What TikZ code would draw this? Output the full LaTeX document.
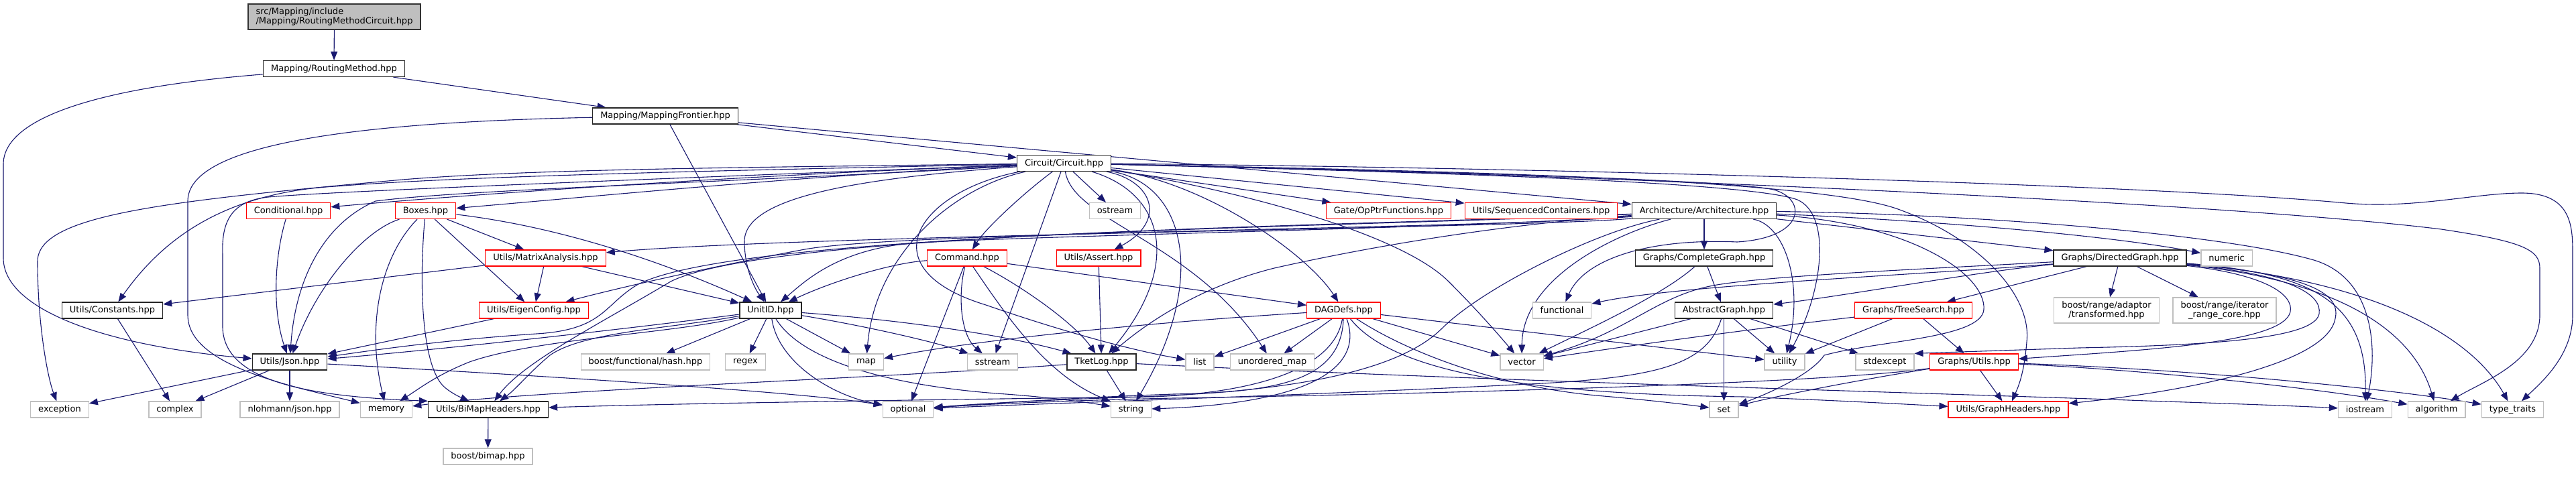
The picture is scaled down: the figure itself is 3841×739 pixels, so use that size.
\documentclass[tikz,border=0pt]{standalone}
\usepackage{fontspec}
\setmainfont{DejaVu Sans}
\usetikzlibrary{arrows.meta}
\pgfdeclarelayer{back}
\pgfdeclarelayer{bg}
\pgfsetlayers{back,bg,main}
\definecolor{edgec}{HTML}{191970}
\definecolor{greyb}{HTML}{BFBFBF}
\definecolor{redb}{HTML}{FF0000}
\tikzset{
  nbase/.style={draw, fill=white, line width=1.25pt, inner xsep=11.5pt, inner ysep=2pt,
    minimum height=24pt, font=\fontsize{13}{13.4}\selectfont, text=black},
  nb/.style={nbase, draw=black!85},
  nr/.style={nbase, draw=redb},
  ng/.style={nbase, draw=greyb},
  ngtwo/.style={nbase, draw=greyb, align=center, minimum height=38pt},
  nroot/.style={nbase, draw=black!80, fill=greyb, align=left, minimum height=38pt},
  e/.style={draw=edgec, line width=1.1pt, -{Triangle[length=13pt,width=10pt]}}
}
\begin{document}
\begin{tikzpicture}[x=1pt,y=-1pt]
\begin{pgfonlayer}{back}
\fill[white] (0,0) rectangle (3841,739);
\end{pgfonlayer}
\useasboundingbox (0,0) rectangle (3841,739);

% nodes
\node[nroot] (root) at (498.5,25) {src/Mapping/include\\/Mapping/RoutingMethodCircuit.hpp};
\node[nb] (rm) at (498,102.5) {Mapping/RoutingMethod.hpp};
\node[nb] (mf) at (992,173) {Mapping/MappingFrontier.hpp};
\node[nb] (circ) at (1586.5,243.5) {Circuit/Circuit.hpp};
\node[nr] (cond) at (430,314.5) {Conditional.hpp};
\node[nr] (boxes) at (634.5,314.5) {Boxes.hpp};
\node[ng] (ostream) at (1662.5,314.5) {ostream};
\node[nr] (opptr) at (2070.5,314.5) {Gate/OpPtrFunctions.hpp};
\node[nr] (seq) at (2298,314.5) {Utils/SequencedContainers.hpp};
\node[nb] (arch) at (2541,314.5) {Architecture/Architecture.hpp};
\node[nr] (matrix) at (813.5,385) {Utils/MatrixAnalysis.hpp};
\node[nr] (command) at (1442,385) {Command.hpp};
\node[nr] (assert) at (1638,385) {Utils/Assert.hpp};
\node[nb] (complete) at (2541,385) {Graphs/CompleteGraph.hpp};
\node[nb] (directed) at (3161,385) {Graphs/DirectedGraph.hpp};
\node[ng] (numeric) at (3320,385) {numeric};
\node[nb] (constants) at (167.5,463) {Utils/Constants.hpp};
\node[nr] (eigen) at (796,463) {Utils/EigenConfig.hpp};
\node[nb] (unitid) at (1149,463) {UnitID.hpp};
\node[nr] (dagdefs) at (2003.5,463) {DAGDefs.hpp};
\node[ng] (functional) at (2329,463) {functional};
\node[nb] (abstract) at (2570.5,463) {AbstractGraph.hpp};
\node[nr] (treesearch) at (2853,463) {Graphs/TreeSearch.hpp};
\node[ngtwo] (transformed) at (3141,463) {boost/range/adaptor\\/transformed.hpp};
\node[ngtwo] (irc) at (3317,463) {boost/range/iterator\\\_range\_core.hpp};
\node[nb] (json) at (432,540) {Utils/Json.hpp};
\node[ng] (hash) at (962.5,540) {boost/functional/hash.hpp};
\node[ng] (regex) at (1111.5,540) {regex};
\node[ng] (map) at (1291.5,540) {map};
\node[ng] (sstream) at (1480,540) {sstream};
\node[nb] (tketlog) at (1642.5,540) {TketLog.hpp};
\node[ng] (list) at (1789,540) {list};
\node[ng] (umap) at (1897,540) {unordered\_map};
\node[ng] (vector) at (2269,540) {vector};
\node[ng] (utility) at (2661,540) {utility};
\node[ng] (stdexcept) at (2810.5,540) {stdexcept};
\node[nr] (gutils) at (2943.5,540) {Graphs/Utils.hpp};
\node[ng] (exception) at (89,611) {exception};
\node[ng] (complex) at (261,611) {complex};
\node[ng] (nlohmann) at (432,611) {nlohmann/json.hpp};
\node[ng] (memory) at (576,611) {memory};
\node[nb] (bimap) at (728,611) {Utils/BiMapHeaders.hpp};
\node[ng] (optional) at (1354,611) {optional};
\node[ng] (string) at (1686.5,611) {string};
\node[ng] (set) at (2570.5,611) {set};
\node[nr] (graphheaders) at (2994.5,611) {Utils/GraphHeaders.hpp};
\node[ng] (iostream) at (3526.5,611) {iostream};
\node[ng] (algorithm) at (3633,611) {algorithm};
\node[ng] (typetraits) at (3746.5,611) {type\_traits};
\node[ng] (boostbimap) at (727.5,681) {boost/bimap.hpp};

\begin{pgfonlayer}{bg}
% top chain
\draw[e] (root) -- (rm);
\draw[e] (rm) .. controls (150,130) and (5,175) .. (5,245) -- (5,385) .. controls (5,460) and (150,515) .. (json);
\draw[e] (rm) -- (mf);
\draw[e] (mf) -- (circ);
\draw[e] (mf) -- (unitid);
\draw[e] (mf) .. controls (500,183) and (280,220) .. (280,300) -- (280,470) .. controls (280,545) and (430,575) .. (memory);
\draw[e] (mf) -- (arch);

% Circuit
\draw[e] (circ) .. controls (1100,262) and (700,290) .. (cond);
\draw[e] (circ) .. controls (1200,262) and (900,292) .. (boxes);
\draw[e] (circ) .. controls (1100,254) and (700,262) .. (500,278) .. controls (330,288) and (240,360) .. (constants);
\draw[e] (circ) .. controls (1100,250) and (800,252) .. (600,268) .. controls (250,300) and (56,320) .. (56,390) .. controls (56,480) and (70,560) .. (exception);
\draw[e] (circ) .. controls (1100,272) and (700,282) .. (560,300) .. controls (480,335) and (440,420) .. (json);
\draw[e] (circ) .. controls (1000,266) and (500,285) .. (400,294) .. controls (345,300) and (330,330) .. (332,380) -- (332,485) .. controls (330,575) and (480,592) .. (bimap.north west);
\draw[e] (circ) .. controls (1530,285) and (1470,340) .. (command);
\draw[e] (circ) .. controls (1720,270) and (1740,330) .. (assert);
\draw[e] (circ) -- (ostream);
\draw[e] (circ) .. controls (1420,280) and (1305,380) .. (map);
\draw[e] (circ) -- (sstream);
\draw[e] (circ) .. controls (1370,285) and (1290,400) .. (1470,455) .. controls (1600,500) and (1700,525) .. (list);
\draw[e] (circ) .. controls (1600,330) and (1780,360) .. (umap);
\draw[e] (circ) .. controls (1740,290) and (1760,400) .. (tketlog);
\draw[e] (circ) .. controls (1770,275) and (1800,420) .. (string);
\draw[e] (circ) .. controls (1300,265) and (1110,290) .. (1110,360) .. controls (1110,400) and (1125,430) .. (unitid);
\draw[e] (circ) .. controls (1800,272) and (1950,380) .. (dagdefs);
\draw[e] (circ) -- (opptr);
\draw[e] (circ) -- (seq);
\draw[e] (circ) .. controls (1800,275) and (2080,340) .. (2160,420) .. controls (2205,465) and (2235,500) .. (vector);
\draw[e] (circ) .. controls (2000,254) and (2600,268) .. (2680,298) .. controls (2730,320) and (2720,430) .. (utility);
\draw[e] (circ) .. controls (2100,254) and (2700,265) .. (2830,312) .. controls (2950,355) and (3030,440) .. (3022,510) .. controls (3018,560) and (3008,580) .. (graphheaders);
\draw[e] (circ) .. controls (2300,250) and (3200,275) .. (3498,303) .. controls (3600,312) and (3690,288) .. (3760,288) .. controls (3836,288) and (3836,340) .. (3836,380) -- (3836,470) .. controls (3836,530) and (3790,570) .. (typetraits);
\draw[e] (circ) .. controls (2300,258) and (3300,300) .. (3640,342) .. controls (3760,360) and (3787,372) .. (3787,400) -- (3787,470) .. controls (3787,540) and (3700,570) .. (algorithm);
\draw[e] (circ) .. controls (2100,255) and (2600,268) .. (2648,284) .. controls (2695,300) and (2690,355) .. (2590,361) .. controls (2450,355) and (2360,390) .. (functional);

% Architecture
\draw[e] (arch) -- (complete);
\draw[e] (arch) -- (directed);
\draw[e] (arch) .. controls (2900,330) and (3150,352) .. (numeric);
\draw[e] (arch) .. controls (2900,318) and (3300,345) .. (3450,388) .. controls (3540,415) and (3545,520) .. (iostream);
\draw[e] (arch) .. controls (2660,335) and (2690,420) .. (utility);
\draw[e] (arch) .. controls (2850,333) and (2962,410) .. (2958,462) .. controls (2954,505) and (2800,508) .. (2720,530) .. controls (2700,560) and (2630,590) .. (set);
\draw[e] (arch) .. controls (2300,340) and (1200,350) .. (matrix);
\draw[e] (arch) .. controls (2200,342) and (1350,345) .. (1200,372) .. controls (1060,398) and (920,430) .. (eigen);
\draw[e] (arch) .. controls (2000,340) and (1100,345) .. (950,425) .. controls (900,455) and (900,492) .. (800,498) .. controls (650,508) and (540,525) .. (json);
\draw[e] (arch) .. controls (2200,340) and (1600,350) .. (1370,362) .. controls (1250,370) and (1200,420) .. (unitid);
\draw[e] (arch) .. controls (2000,338) and (1150,345) .. (1000,420) .. controls (900,480) and (780,540) .. (bimap);
\draw[e] (arch) .. controls (2420,345) and (2270,410) .. (vector);
\draw[e] (arch) .. controls (2300,330) and (2100,355) .. (1900,400) .. controls (1780,430) and (1700,490) .. (tketlog);
\draw[e] (arch) .. controls (2380,345) and (2210,430) .. (2150,490) .. controls (2080,560) and (1900,585) .. (1700,592) .. controls (1550,597) and (1450,603) .. (optional);

% Boxes, Conditional
\draw[e] (boxes) .. controls (540,345) and (470,430) .. (json);
\draw[e] (boxes) .. controls (570,380) and (545,480) .. (memory);
\draw[e] (boxes) .. controls (625,420) and (628,540) .. (660,575) .. controls (670,585) and (685,592) .. (bimap);
\draw[e] (boxes) -- (eigen);
\draw[e] (boxes) -- (matrix);
\draw[e] (boxes) .. controls (850,340) and (1010,400) .. (unitid);
\draw[e] (cond) .. controls (410,380) and (405,460) .. (json);

% Constants, Json
\draw[e] (constants) -- (complex);
\draw[e] (json) -- (exception);
\draw[e] (json) -- (complex);
\draw[e] (json) -- (nlohmann);
\draw[e] (json) .. controls (800,560) and (1200,585) .. (optional);

% MatrixAnalysis, EigenConfig
\draw[e] (matrix) -- (constants);
\draw[e] (matrix) -- (eigen);
\draw[e] (matrix) -- (unitid);
\draw[e] (eigen) -- (json);

% UnitID
\draw[e] (unitid) .. controls (900,495) and (650,522) .. (json);
\draw[e] (unitid) .. controls (1000,490) and (870,495) .. (820,530) .. controls (790,555) and (770,580) .. (bimap);
\draw[e] (unitid) .. controls (1000,498) and (800,505) .. (700,540) .. controls (650,560) and (625,580) .. (memory);
\draw[e] (unitid) -- (hash);
\draw[e] (unitid) -- (regex);
\draw[e] (unitid) -- (map);
\draw[e] (unitid) .. controls (1300,488) and (1400,512) .. (sstream);
\draw[e] (unitid) .. controls (1350,478) and (1500,500) .. (tketlog);
\draw[e] (unitid) .. controls (1160,540) and (1240,590) .. (optional);
\draw[e] (unitid) .. controls (1200,545) and (1350,578) .. (1500,588) .. controls (1580,594) and (1630,602) .. (string);

% Command, Assert
\draw[e] (command) .. controls (1330,392) and (1240,420) .. (unitid);
\draw[e] (command) -- (optional);
\draw[e] (command) .. controls (1428,440) and (1432,500) .. (sstream);
\draw[e] (command) .. controls (1500,470) and (1560,560) .. (string);
\draw[e] (command) .. controls (1520,425) and (1600,480) .. (tketlog);
\draw[e] (command) -- (dagdefs);
\draw[e] (assert) -- (tketlog);

% TketLog
\draw[e] (tketlog) -- (string);
\draw[e] (tketlog) .. controls (1300,565) and (800,582) .. (memory);
\draw[e] (tketlog) .. controls (2200,568) and (3000,590) .. (3200,598) .. controls (3350,603) and (3430,606) .. (iostream);

% DAGDefs
\draw[e] (dagdefs) -- (umap);
\draw[e] (dagdefs) -- (list);
\draw[e] (dagdefs) .. controls (1700,482) and (1450,508) .. (map);
\draw[e] (dagdefs) -- (vector);
\draw[e] (dagdefs) -- (utility);
\draw[e] (dagdefs) .. controls (2090,520) and (2220,575) .. (2380,590) .. controls (2460,597) and (2510,603) .. (set);
\draw[e] (dagdefs) .. controls (2000,570) and (1900,585) .. (1750,588) .. controls (1580,594) and (1450,604) .. (optional);
\draw[e] (dagdefs) .. controls (2035,550) and (1950,602) .. (string);
\draw[e] (dagdefs) .. controls (2080,560) and (2300,588) .. (2600,592) .. controls (2750,598) and (2840,603) .. (graphheaders);
\draw[e] (dagdefs) .. controls (1990,548) and (1880,585) .. (1720,592) .. controls (1400,596) and (1000,602) .. (bimap);

% CompleteGraph, AbstractGraph
\draw[e] (complete) -- (abstract);
\draw[e] (complete) .. controls (2480,440) and (2370,490) .. (vector);
\draw[e] (abstract) -- (vector);
\draw[e] (abstract) -- (utility);
\draw[e] (abstract) -- (stdexcept);
\draw[e] (abstract) -- (set);
\draw[e] (abstract) .. controls (2545,545) and (2470,562) .. (2300,572) .. controls (1950,590) and (1550,602) .. (optional);

% DirectedGraph
\draw[e] (directed) .. controls (2950,405) and (2760,440) .. (abstract);
\draw[e] (directed) -- (treesearch);
\draw[e] (directed) -- (transformed);
\draw[e] (directed) -- (irc);
\draw[e] (directed) .. controls (3380,410) and (3420,440) .. (3415,465) .. controls (3405,512) and (3200,522) .. (gutils);
\draw[e] (directed) .. controls (3420,410) and (3462,440) .. (3458,468) .. controls (3452,505) and (3300,515) .. (3100,519) -- (stdexcept.north east);
\draw[e] (directed) .. controls (3450,410) and (3490,440) .. (3482,475) .. controls (3470,545) and (3250,585) .. (graphheaders);
\draw[e] (directed) .. controls (3450,408) and (3530,450) .. (iostream);
\draw[e] (directed) .. controls (3500,420) and (3600,500) .. (algorithm);
\draw[e] (directed) .. controls (3560,420) and (3690,510) .. (typetraits);
\draw[e] (directed) .. controls (2900,400) and (2650,410) .. (2560,425) .. controls (2470,440) and (2430,495) .. (vector);
\draw[e] (directed) .. controls (2900,408) and (2500,425) .. (functional);

% TreeSearch
\draw[e] (treesearch) -- (utility);
\draw[e] (treesearch) -- (gutils);
\draw[e] (treesearch) .. controls (2600,492) and (2400,520) .. (vector);

% Graphs/Utils
\draw[e] (gutils) -- (graphheaders);
\draw[e] (gutils) .. controls (2800,562) and (2660,588) .. (set);
\draw[e] (gutils) .. controls (2700,575) and (2000,590) .. (1750,594) .. controls (1600,597) and (1450,604) .. (optional);
\draw[e] (gutils) .. controls (3200,552) and (3450,578) .. (algorithm);
\draw[e] (gutils) .. controls (3250,550) and (3550,578) .. (typetraits);

% BiMap
\draw[e] (bimap) -- (boostbimap);
\end{pgfonlayer}
\end{tikzpicture}
\end{document}
